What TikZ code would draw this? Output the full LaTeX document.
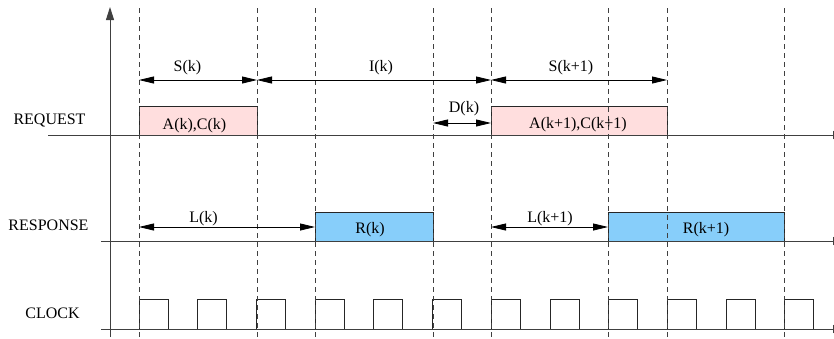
\documentclass[tikz,border=0pt]{standalone}
\usepackage{fontspec}
\setmainfont{Liberation Serif}
\usetikzlibrary{arrows.meta}
\definecolor{reqfill}{RGB}{255,222,222}
\definecolor{resfill}{RGB}{135,206,250}
\begin{document}
\begin{tikzpicture}[x=1pt,y=-1pt,
  lbl/.style={font=\fontsize{16}{19}\selectfont, inner sep=0pt, anchor=base},
  axisline/.style={draw=black!75, line width=0.9pt},
  axisarrow/.style={axisline, -{Triangle[length=13pt,width=8pt]}},
  guide/.style={draw=black!75, line width=0.8pt, dash pattern=on 5pt off 4pt},
  dim/.style={draw=black, line width=0.8pt, {Triangle[length=15pt,width=7pt]}-{Triangle[length=15pt,width=7pt]}},
  reqbox/.style={draw=black!85, line width=0.9pt, fill=reqfill},
  resbox/.style={draw=black!85, line width=0.9pt, fill=resfill},
  clk/.style={draw=black!85, line width=0.8pt}
]
\useasboundingbox (0,0) rectangle (834,338);

% boxes
\draw[reqbox] (139,106) rectangle (257,135);
\draw[reqbox] (491,106) rectangle (667,135);
\draw[resbox] (315,212) rectangle (433,241);
\draw[resbox] (608,212) rectangle (784,241);

% clock pulses
\foreach \i in {0,...,11} {
  \pgfmathsetmacro\xa{139+58.7*\i}
  \draw[clk] (\xa,329) -- (\xa,299) -- (\xa+29,299) -- (\xa+29,329);
}

% dashed guides
\foreach \gx in {139,257,315,433,491,608,667,784} {
  \draw[guide] (\gx,8) -- (\gx,338);
}

% axes
\coordinate (vbot) at (110,337);
\coordinate (vtop) at (110,7);
\draw[axisarrow] (vbot) -- (vtop);
\coordinate (reqL) at (48,135);
\coordinate (reqR) at (846,135);
\draw[axisarrow] (reqL) -- (reqR);
\coordinate (resL) at (101,241);
\coordinate (resR) at (846,241);
\draw[axisarrow] (resL) -- (resR);
\coordinate (clkL) at (101,329);
\coordinate (clkR) at (846,329);
\draw[axisarrow] (clkL) -- (clkR);

% dimension coordinates
\coordinate (s0) at (139,80);
\coordinate (s1) at (257,80);
\coordinate (s2) at (491,80);
\coordinate (s3) at (667,80);
\coordinate (d0) at (433,123);
\coordinate (d1) at (491,123);
\coordinate (l0) at (139,227);
\coordinate (l1) at (315,227);
\coordinate (l2) at (491,227);
\coordinate (l3) at (608,227);
\draw[dim] (s0) -- (s1);
\draw[dim] (s1) -- (s2);
\draw[dim] (s2) -- (s3);
\draw[dim] (d0) -- (d1);
\draw[dim] (l0) -- (l1);
\draw[dim] (l2) -- (l3);

% labels
\node[lbl] (request) at (49.5,124) {REQUEST};
\node[lbl] (response) at (48.5,230) {RESPONSE};
\node[lbl] (clock) at (52.5,318) {CLOCK};
\node[lbl] (Sk) at (187.5,71) {S(k)};
\node[lbl] (Ik) at (381,71) {I(k)};
\node[lbl] (Sk1) at (571,71) {S(k+1)};
\node[lbl] (Dk) at (464,112) {D(k)};
\node[lbl] (ACk) at (194.5,129) {A(k),C(k)};
\node[lbl] (ACk1) at (578,128) {A(k+1),C(k+1)};
\node[lbl] (Rk) at (370,233) {R(k)};
\node[lbl] (Rk1) at (706,233) {R(k+1)};
\node[lbl] (Lk) at (203.5,222) {L(k)};
\node[lbl] (Lk1) at (550,222) {L(k+1)};
\end{tikzpicture}
\end{document}
